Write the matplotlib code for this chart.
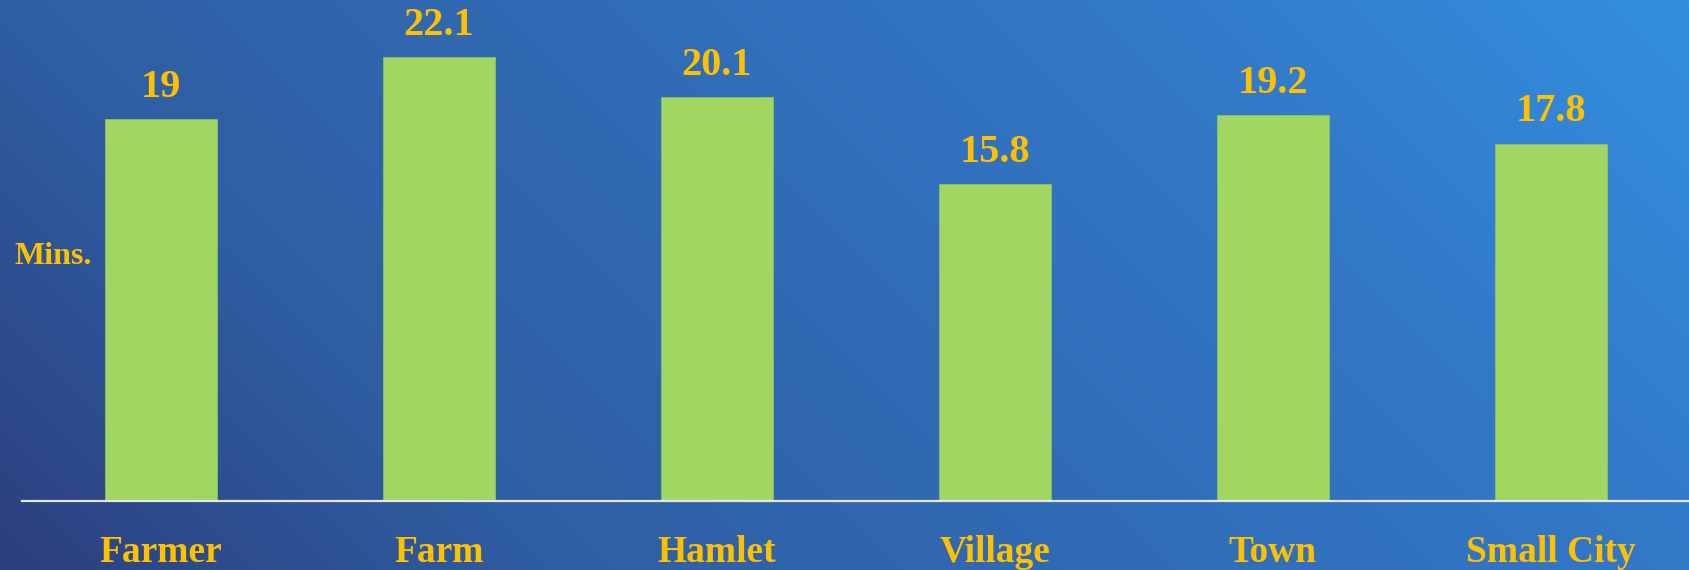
import numpy as np
import matplotlib
matplotlib.use("Agg")
import matplotlib.pyplot as plt
from matplotlib.colors import LinearSegmentedColormap

# Chart data
categories = ["Farmer", "Farm", "Hamlet", "Village", "Town", "Small City"]
values = [19, 22.1, 20.1, 15.8, 19.2, 17.8]
value_labels = ["19", "22.1", "20.1", "15.8", "19.2", "17.8"]
y_label = "Mins."

bar_color = "#A1D662"
text_color = "#FFC000"
font = "Liberation Serif"

W, H = 1690, 570
fig = plt.figure(figsize=(W / 100, H / 100), dpi=100)

# Diagonal background gradient (bottom-left dark navy -> top-right light blue)
bg = fig.add_axes([0, 0, 1, 1], zorder=0)
bg.axis("off")
xx, yy = np.meshgrid(np.arange(W), np.arange(H))
t = (xx + (H - yy)) / (W + H)
cmap = LinearSegmentedColormap.from_list(
    "bg", [(0, "#2C3F7E"), (0.25, "#2F5EA3"), (0.75, "#3279C8"), (1, "#3390DF")]
)
bg.imshow(t, cmap=cmap, aspect="auto", extent=[0, 1, 0, 1], origin="upper")
bg.set_xlim(0, 1)
bg.set_ylim(0, 1)

ax = fig.add_axes([22 / W, 69 / H, 1668 / W, 501 / H], zorder=1)
ax.patch.set_alpha(0)
x = np.arange(len(categories))
bars = ax.bar(x, values, width=0.4, color=bar_color, edgecolor="#8CC063", linewidth=0.6)

ax.set_xlim(-0.5, 5.5)
ax.set_ylim(0, 24.95)
for side in ["top", "right", "left"]:
    ax.spines[side].set_visible(False)
ax.spines["bottom"].set_color("#E6E6E6")
ax.spines["bottom"].set_linewidth(1.6)
ax.set_xticks([])
ax.set_yticks([])

# value labels above bars
for xi, v, lab in zip(x, values, value_labels):
    ax.annotate(lab, (xi, v), xytext=(0, 16), textcoords="offset points",
                ha="center", va="baseline", fontsize=29, fontweight="bold",
                family=font, color=text_color)

# category labels under the axis
for xi, cat in zip(x, categories):
    ax.annotate(cat, (xi, 0), xytext=(0, -44), textcoords="offset points",
                ha="center", va="baseline", fontsize=27, fontweight="bold",
                family=font, color=text_color)

fig.text(15 / W, 306 / H, y_label, ha="left", va="baseline", fontsize=23,
         fontweight="bold", family=font, color=text_color)

fig.savefig("out.png", dpi=100)
